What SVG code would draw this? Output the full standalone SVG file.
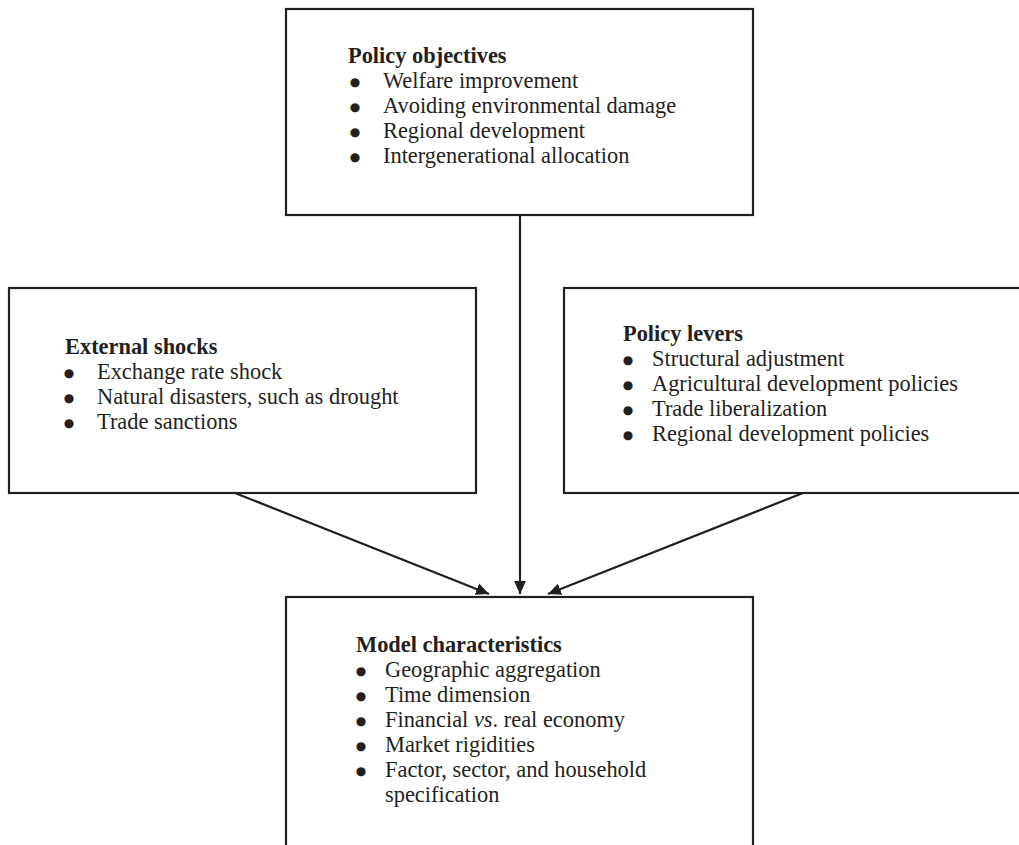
<svg xmlns="http://www.w3.org/2000/svg" width="1019" height="845" viewBox="0 0 1019 845">
<style>
.box{fill:#fff;stroke:#231f20;stroke-width:2.2}
.conn{stroke:#231f20;stroke-width:2.2;fill:none}
text{font-family:"Liberation Serif","Times New Roman",serif;font-size:22.4px;fill:#231f20}
.t{font-weight:bold}
.b{font-family:"DejaVu Sans",sans-serif;font-size:12px;text-anchor:middle}
</style>
<defs>
<marker id="ah" markerUnits="userSpaceOnUse" markerWidth="14" markerHeight="14" viewBox="0 0 14 14" refX="13" refY="7" orient="auto">
<path d="M0,1 L13,7 L0,13 Z" fill="#231f20"/>
</marker>
</defs>
<g id="policy-objectives">
<rect class="box" x="286" y="9" width="467" height="206"/>
<text class="t" x="348" y="63">Policy objectives</text>
<text class="b" x="355" y="86">●</text><text x="383" y="88">Welfare improvement</text>
<text class="b" x="355" y="111">●</text><text x="383" y="113">Avoiding environmental damage</text>
<text class="b" x="355" y="136">●</text><text x="383" y="138">Regional development</text>
<text class="b" x="355" y="161">●</text><text x="383" y="163">Intergenerational allocation</text>
</g>
<g id="external-shocks">
<rect class="box" x="9" y="288" width="467" height="205"/>
<text class="t" x="65" y="354">External shocks</text>
<text class="b" x="69" y="377">●</text><text x="97" y="379">Exchange rate shock</text>
<text class="b" x="69" y="402">●</text><text x="97" y="404">Natural disasters, such as drought</text>
<text class="b" x="69" y="427">●</text><text x="97" y="429">Trade sanctions</text>
</g>
<g id="policy-levers">
<rect class="box" x="564" y="288" width="470" height="205"/>
<text class="t" x="623" y="341">Policy levers</text>
<text class="b" x="628" y="364">●</text><text x="652" y="366">Structural adjustment</text>
<text class="b" x="628" y="389">●</text><text x="652" y="391">Agricultural development policies</text>
<text class="b" x="628" y="414">●</text><text x="652" y="416">Trade liberalization</text>
<text class="b" x="628" y="439">●</text><text x="652" y="441">Regional development policies</text>
</g>
<g id="model-characteristics">
<rect class="box" x="286" y="597" width="467" height="260"/>
<text class="t" x="356" y="652">Model characteristics</text>
<text class="b" x="361" y="675">●</text><text x="385" y="677">Geographic aggregation</text>
<text class="b" x="361" y="700">●</text><text x="385" y="702">Time dimension</text>
<text class="b" x="361" y="725">●</text><text x="385" y="727">Financial <tspan font-style="italic">vs</tspan>. real economy</text>
<text class="b" x="361" y="750">●</text><text x="385" y="752">Market rigidities</text>
<text class="b" x="361" y="775">●</text><text x="385" y="777">Factor, sector, and household</text>
<text x="385" y="802">specification</text>
</g>
<g id="connectors">
<line class="conn" x1="520" y1="215" x2="520" y2="594" marker-end="url(#ah)"/>
<line class="conn" x1="235" y1="493" x2="489" y2="594" marker-end="url(#ah)"/>
<line class="conn" x1="803" y1="493" x2="548" y2="594" marker-end="url(#ah)"/>
</g>
</svg>
